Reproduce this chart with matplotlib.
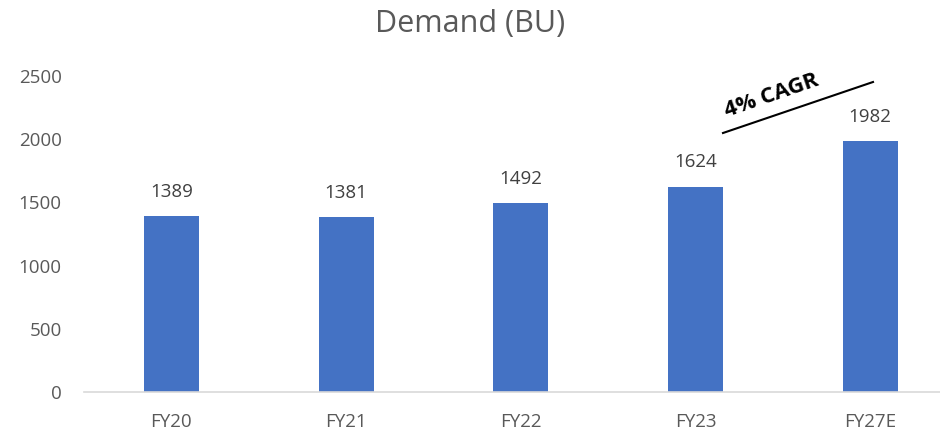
import matplotlib
matplotlib.use("Agg")
import matplotlib.pyplot as plt

categories = ["FY20", "FY21", "FY22", "FY23", "FY27E"]
values = [1389, 1381, 1492, 1624, 1982]
yticks = [0, 500, 1000, 1500, 2000, 2500]
title = "Demand (BU)"
cagr_text = "4% CAGR"

plt.rcParams['font.family'] = ['Open Sans', 'DejaVu Sans']
grey = "#595959"

fig = plt.figure(figsize=(9.4, 4.38), dpi=100)
ax = fig.add_axes([84/940, 46/438, 1 - 84/940, 316/438])
x = list(range(len(categories)))
ax.bar(x, values, width=0.315, color="#4472C4", zorder=2)
ax.set_ylim(0, 2500)
ax.set_xlim(-0.5, 4.4)
ax.set_yticks(yticks)
ax.set_yticklabels([str(t) for t in yticks])
ax.set_xticks(x)
ax.set_xticklabels(categories)
ax.tick_params(axis='both', length=0, labelsize=13.5, colors=grey)
ax.tick_params(axis='y', pad=16)
ax.tick_params(axis='x', pad=15)
for s in ["top", "right", "left"]:
    ax.spines[s].set_visible(False)
ax.spines["bottom"].set_color("#D9D9D9")
ax.spines["bottom"].set_linewidth(1.2)

for xi, v in zip(x, values):
    ax.annotate(str(v), (xi, v), xytext=(0, 11), textcoords="offset points",
                ha="center", va="bottom", fontsize=13.5, color="#404040")

fig.text(0.5, 1 - 24/438, title, ha="center", va="center", fontsize=22, color=grey)

# CAGR annotation line and text (figure pixel fractions)
fig.add_artist(plt.Line2D([723/940, 873/940], [1 - 133/438, 1 - 82/438],
                          color="black", linewidth=1.5, transform=fig.transFigure))
fig.text(772/940, 1 - 96/438, cagr_text, ha="center", va="center", fontsize=16,
         fontweight="bold", rotation=19, color="black")

fig.savefig("out.png", dpi=100)
